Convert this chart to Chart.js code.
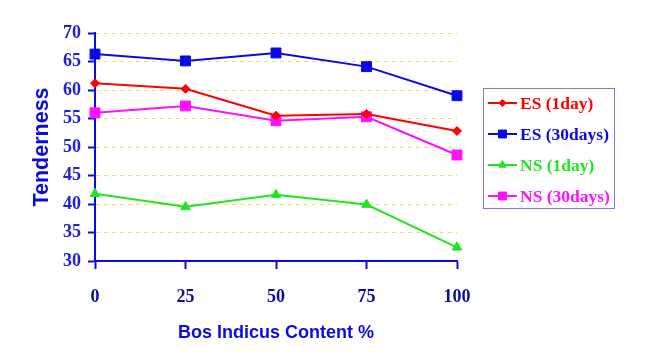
<!DOCTYPE html>
<html>
<head>
<meta charset="utf-8">
<script src="https://cdn.jsdelivr.net/npm/chart.js@4/dist/chart.umd.min.js"></script>
<style>
html,body{margin:0;padding:0;background:#fff;}
#wrap{width:660px;height:358px;position:relative;}
</style>
</head>
<body>
<div id="wrap"><canvas id="c" width="660" height="358"></canvas></div>
<script>
const categories = ['0', '25', '50', '75', '100'];
const esOneDay = [61.2, 60.2, 55.5, 55.8, 52.8];
const esThirtyDays = [66.3, 65.1, 66.5, 64.1, 59.0];
const nsOneDay = [41.8, 39.5, 41.6, 39.9, 32.4];
const nsThirtyDays = [56.0, 57.2, 54.6, 55.3, 48.6];
const seriesNames = ['ES (1day)', 'ES (30days)', 'NS (1day)', 'NS (30days)'];
const yTicks = [30, 35, 40, 45, 50, 55, 60, 65, 70];

const colors = ['#ff0000', '#0a0ae6', '#1fe61f', '#ff10ff'];
const styles = ['rectRot', 'rect', 'triangle', 'rect'];
const radii = [4.5, 7, 5.5, 7];
const seriesData = [esOneDay, esThirtyDays, nsOneDay, nsThirtyDays];

const datasets = seriesData.map((d, i) => ({
  label: seriesNames[i],
  data: d,
  borderColor: colors[i],
  backgroundColor: colors[i],
  borderWidth: 2,
  pointStyle: styles[i],
  pointRadius: radii[i],
  pointHoverRadius: radii[i],
  pointBorderWidth: 1,
  tension: 0,
  clip: false
}));

const legendPlugin = {
  id: 'customLegend',
  afterDraw(chart) {
    const ctx = chart.ctx;
    ctx.save();
    ctx.strokeStyle = '#7a7ae8';
    ctx.lineWidth = 1;
    ctx.strokeRect(483.5, 88.5, 131, 120);
    const ys = [103, 134, 165, 196];
    chart.data.datasets.forEach((ds, i) => {
      const y = ys[i];
      ctx.strokeStyle = ds.borderColor;
      ctx.lineWidth = 2;
      ctx.beginPath();
      ctx.moveTo(488, y);
      ctx.lineTo(517, y);
      ctx.stroke();
      ctx.fillStyle = ds.backgroundColor;
      ctx.strokeStyle = ds.borderColor;
      ctx.lineWidth = 1;
      Chart.helpers.drawPoint(ctx, {pointStyle: ds.pointStyle, radius: ds.pointRadius * 0.8, rotation: 0, borderWidth: 1}, 502.5, y);
      ctx.fillStyle = ds.borderColor;
      ctx.font = 'bold 17.5px "Liberation Serif", "Times New Roman", serif';
      ctx.textBaseline = 'middle';
      ctx.textAlign = 'left';
      ctx.fillText(ds.label, 520, y + 1);
    });
    ctx.restore();
  }
};

new Chart(document.getElementById('c'), {
  type: 'line',
  data: { labels: categories, datasets },
  options: {
    responsive: false,
    animation: false,
    devicePixelRatio: 1,
    layout: { padding: { left: 0, right: 203, top: 33, bottom: 0 } },
    plugins: { legend: { display: false }, tooltip: { enabled: false } },
    scales: {
      x: {
        type: 'category',
        offset: false,
        afterFit(scale) { scale.height = 97; },
        grid: {
          display: true,
          drawOnChartArea: false,
          drawTicks: true,
          tickLength: 8,
          tickColor: '#0a0ae6',
          tickWidth: 2
        },
        border: { display: true, color: '#0a0ae6', width: 2 },
        ticks: {
          color: '#0c0c96',
          padding: 18,
          maxRotation: 0,
          font: { family: '"Liberation Serif", "Times New Roman", serif', size: 18, weight: 'bold' }
        },
        title: {
          display: true,
          text: 'Bos Indicus Content %',
          color: '#0a0ae6',
          padding: { top: 0, bottom: 14 },
          font: { family: '"Liberation Sans", Arial, sans-serif', size: 18, weight: 'bold' }
        }
      },
      y: {
        min: 30,
        max: 70,
        afterFit(scale) { scale.width = 95; },
        afterBuildTicks(scale) { scale.ticks = yTicks.map(v => ({ value: v })); },
        grid: {
          display: true,
          drawOnChartArea: true,
          color: (ctx) => (ctx.tick && ctx.tick.value === 30) ? 'rgba(0,0,0,0)' : '#f2df6a',
          lineWidth: 1,
          drawTicks: true,
          tickLength: 7,
          tickColor: '#0a0ae6',
          tickWidth: 2
        },
        border: { display: true, color: '#0a0ae6', width: 2, dash: [4, 4] },
        ticks: {
          color: '#2020d4',
          padding: 7,
          font: { family: '"Liberation Serif", "Times New Roman", serif', size: 18, weight: 'bold' }
        },
        title: {
          display: true,
          text: 'Tenderness',
          color: '#0a0ae6',
          padding: { top: 29, bottom: 0 },
          font: { family: '"Liberation Sans", Arial, sans-serif', size: 21.5, weight: 'bold' }
        }
      }
    }
  },
  plugins: [legendPlugin]
});
</script>
</body>
</html>
